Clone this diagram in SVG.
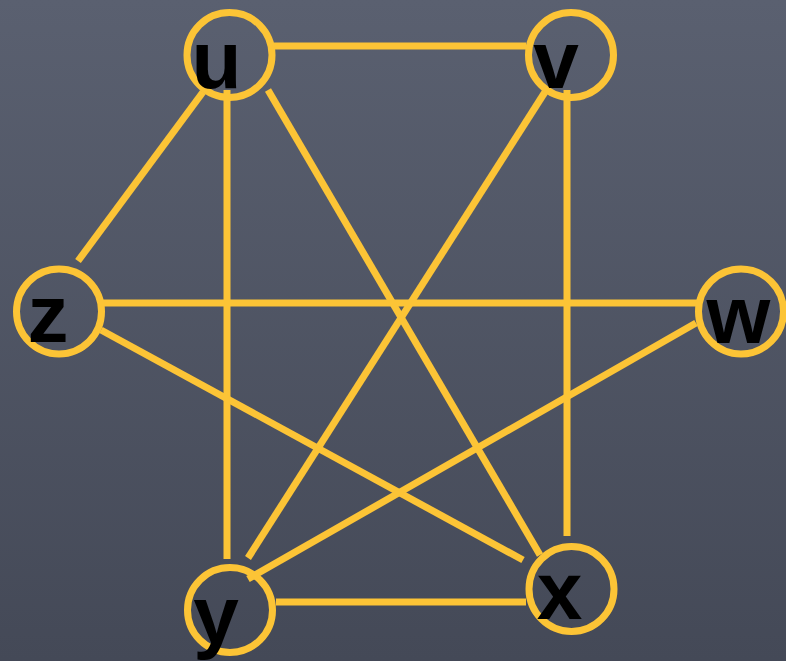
<svg xmlns="http://www.w3.org/2000/svg" width="786" height="661" viewBox="0 0 786 661">
  <defs>
    <linearGradient id="bg" x1="0" y1="0" x2="0" y2="1">
      <stop offset="0" stop-color="#5a6070"/>
      <stop offset="1" stop-color="#444957"/>
    </linearGradient>
    <style>
      .edge { stroke: #fcc436; stroke-width: 7; stroke-linecap: butt; fill: none; }
      .ring { stroke: #fcc436; stroke-width: 7; fill: none; }
      .lbl { font-family: "Liberation Sans", Arial, sans-serif; font-weight: bold; font-size: 82px; fill: #000000; text-anchor: middle; }
    </style>
  </defs>
  <rect x="0" y="0" width="786" height="661" fill="url(#bg)"/>
  <g id="connectors">
    <line class="edge" x1="274" y1="46" x2="526" y2="46"/>
    <line class="edge" x1="203" y1="92" x2="78" y2="261"/>
    <line class="edge" x1="227" y1="90" x2="227" y2="559"/>
    <line class="edge" x1="268" y1="90" x2="540" y2="555"/>
    <line class="edge" x1="567" y1="90" x2="567" y2="536"/>
    <line class="edge" x1="545" y1="92" x2="248" y2="558"/>
    <line class="edge" x1="103" y1="303" x2="697" y2="303"/>
    <line class="edge" x1="101" y1="330" x2="523" y2="560"/>
    <line class="edge" x1="696" y1="323" x2="248" y2="579"/>
    <line class="edge" x1="276" y1="602" x2="526" y2="602"/>
  </g>
  <g id="node-u">
    <circle class="ring" cx="229.5" cy="55" r="42.5"/>
    <text class="lbl" x="216.5" y="88">u</text>
  </g>
  <g id="node-v">
    <circle class="ring" cx="571" cy="55" r="42.5"/>
    <text class="lbl" x="556" y="88">v</text>
  </g>
  <g id="node-z">
    <circle class="ring" cx="59" cy="311.5" r="42.5"/>
    <text class="lbl" x="48" y="342">z</text>
  </g>
  <g id="node-w">
    <circle class="ring" cx="741" cy="311.5" r="42.5"/>
    <text class="lbl" x="738.5" y="343">w</text>
  </g>
  <g id="node-y">
    <circle class="ring" cx="230" cy="610" r="42.5"/>
    <text class="lbl" x="216" y="643">y</text>
  </g>
  <g id="node-x">
    <circle class="ring" cx="571.5" cy="589" r="42.5"/>
    <text class="lbl" x="559.5" y="619">x</text>
  </g>
</svg>
